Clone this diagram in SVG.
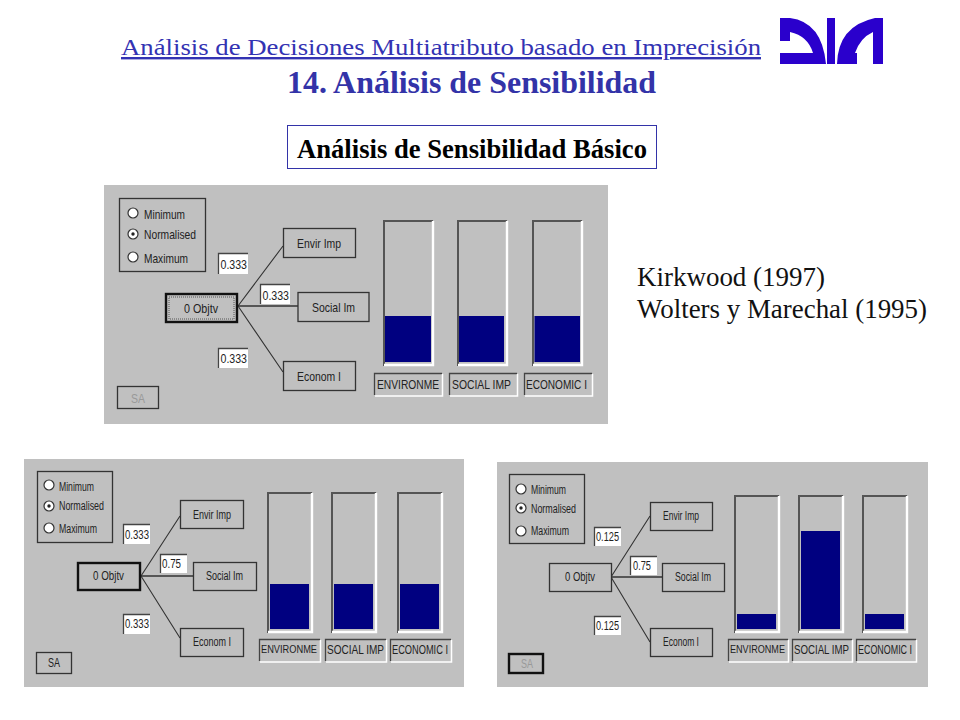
<svg xmlns="http://www.w3.org/2000/svg" width="960" height="720" viewBox="0 0 960 720">
<style>
.serif{font-family:"Liberation Serif","Times New Roman",serif}
.ui{font-family:"Liberation Sans",Arial,sans-serif;font-size:13px;fill:#222}
.sm{font-size:12px}
.xs{font-size:10.500px}
.panel{fill:#c0c0c0}
.frame{fill:none;stroke:#333;stroke-width:1.3}
.btn{fill:#c0c0c0;stroke:#333;stroke-width:1.3}
.def{fill:#c0c0c0;stroke:#111;stroke-width:2.4}
.val{fill:#fff}
.vedge{fill:none;stroke:#444;stroke-width:1.3}
.radio{fill:#fff;stroke:#333;stroke-width:1.2}
.dot{fill:#222}
.link{stroke:#333;stroke-width:1.1;fill:none}
.link2{stroke:#333;stroke-width:1.6;fill:none}
.dark{fill:none;stroke:#555;stroke-width:2}
.light{fill:none;stroke:#fff;stroke-width:2.4}
.thin{fill:none;stroke:#fff;stroke-width:1.5}
.fill{fill:#000080}
.sa{fill:#999}
</style>
<rect width="960" height="720" fill="#fff"/>

<g id="title">
<text class="serif" x="121" y="55" font-size="24" fill="#3333b3" text-decoration="underline" textLength="640" lengthAdjust="spacingAndGlyphs">Análisis de Decisiones Multiatributo basado en Imprecisión</text>
<text class="serif" x="287" y="92.500" font-size="32" font-weight="bold" fill="#3333a8" textLength="369" lengthAdjust="spacingAndGlyphs">14. Análisis de Sensibilidad</text>
</g>
<g id="logo" fill="#2a00cc">
<path d="M780 18H790Q822 22 826 64H780V53H813Q808 36 790 32V41H780Z"/>
<rect x="827" y="18" width="8" height="46"/>
<path d="M837 64Q838 26 875 18H883V64H873V32Q860 38 855 53H857V64Z"/>
</g>
<g id="subtitle">
<rect x="287.500" y="125.500" width="369" height="43" fill="#fff" stroke="#3333a8"/>
<text class="serif" x="297" y="157.500" font-size="26.500" font-weight="bold" fill="#000" textLength="350" lengthAdjust="spacingAndGlyphs">Análisis de Sensibilidad Básico</text>
</g>
<g id="references" class="serif" font-size="27" fill="#111">
<text x="637" y="286" textLength="188" lengthAdjust="spacingAndGlyphs">Kirkwood (1997)</text>
<text x="637" y="318" textLength="290" lengthAdjust="spacingAndGlyphs">Wolters y Marechal (1995)</text>
</g>

<g id="panel-top">
<rect class="panel" x="104" y="185" width="504" height="239"/>
<g id="top-connectors">
<path class="link" d="M238 306L283 246M238 306L283 372"/>
<path class="link2" d="M238 306H298"/>
</g>
<g id="top-mode">
<rect class="frame" x="119.500" y="198.500" width="86" height="73"/>
<circle class="radio" cx="133" cy="213" r="5"/><circle class="radio" cx="133" cy="234" r="5"/><circle class="dot" cx="133" cy="234" r="1.700"/><circle class="radio" cx="133" cy="257" r="5"/>
<text class="ui" x="144" y="219" textLength="41" lengthAdjust="spacingAndGlyphs">Minimum</text><text class="ui" x="144" y="239" textLength="52" lengthAdjust="spacingAndGlyphs">Normalised</text><text class="ui" x="144" y="263" textLength="44" lengthAdjust="spacingAndGlyphs">Maximum</text>
</g>
<g id="top-objective"><rect class="def" x="166" y="294" width="71" height="28"/><rect x="169" y="297" width="65" height="22" fill="none" stroke="#555" stroke-dasharray="1 1"/><text class="ui" x="184" y="313" textLength="34" lengthAdjust="spacingAndGlyphs">0 Objtv</text></g>
<g id="top-envir"><rect class="btn" x="283.500" y="228.500" width="72" height="29"/><text class="ui" x="297" y="248" textLength="44" lengthAdjust="spacingAndGlyphs">Envir Imp</text></g>
<g id="top-social"><rect class="btn" x="298" y="292.500" width="71" height="29"/><text class="ui" x="312" y="312" textLength="43" lengthAdjust="spacingAndGlyphs">Social Im</text></g>
<g id="top-econom"><rect class="btn" x="283.500" y="361.500" width="72" height="29"/><text class="ui" x="297" y="381" textLength="44" lengthAdjust="spacingAndGlyphs">Econom I</text></g>
<g id="top-w1"><rect class="val" x="218" y="253" width="30" height="21"/><path class="vedge" d="M218.500 274V253.500H248"/><text class="ui" x="220.500" y="268.500" textLength="26.500" lengthAdjust="spacingAndGlyphs">0.333</text></g>
<g id="top-w2"><rect class="val" x="260" y="284" width="30" height="20"/><path class="vedge" d="M260.500 304V284.500H290"/><text class="ui" x="262.500" y="299.500" textLength="26.500" lengthAdjust="spacingAndGlyphs">0.333</text></g>
<g id="top-w3"><rect class="val" x="218" y="348" width="30" height="20"/><path class="vedge" d="M218.500 368V348.500H248"/><text class="ui" x="220.500" y="362.500" textLength="26.500" lengthAdjust="spacingAndGlyphs">0.333</text></g>
<g id="top-sa"><rect class="btn" x="117.500" y="386.500" width="41" height="22"/><text class="ui sa" x="131" y="402.500" textLength="14" lengthAdjust="spacingAndGlyphs">SA</text></g>
<g id="top-bar1"><path class="dark" d="M384 366V221H433"/><path class="light" d="M433 221V365H384"/><rect class="fill" x="385" y="316" width="46" height="46"/></g>
<g id="top-bar2"><path class="dark" d="M458 366V221H507"/><path class="light" d="M507 221V365H458"/><rect class="fill" x="459" y="316" width="45" height="46"/></g>
<g id="top-bar3"><path class="dark" d="M533 366V221H582"/><path class="light" d="M582 221V365H533"/><rect class="fill" x="534.500" y="316" width="45.500" height="46"/></g>
<g id="top-l1"><path class="vedge" d="M374.500 395V373.500H442"/><path class="thin" d="M375 396H442.500V374"/><text class="ui" x="377" y="388.500" textLength="62" lengthAdjust="spacingAndGlyphs">ENVIRONME</text></g>
<g id="top-l2"><path class="vedge" d="M449.500 395V373.500H517"/><path class="thin" d="M450 396H517.500V374"/><text class="ui" x="452" y="388.500" textLength="59" lengthAdjust="spacingAndGlyphs">SOCIAL IMP</text></g>
<g id="top-l3"><path class="vedge" d="M524.500 395V373.500H592"/><path class="thin" d="M525 396H592.500V374"/><text class="ui" x="526" y="388.500" textLength="61" lengthAdjust="spacingAndGlyphs">ECONOMIC I</text></g>
</g>

<g id="panel-left">
<rect class="panel" x="24" y="459" width="440" height="228"/>
<g id="left-connectors">
<path class="link" d="M141 576L180 516M141 576L180 638"/>
<path class="link2" d="M141 576H193"/>
</g>
<g id="left-mode">
<rect class="frame" x="37.500" y="471.500" width="75" height="71"/>
<circle class="radio" cx="49" cy="485" r="5"/><circle class="radio" cx="49" cy="506" r="5"/><circle class="dot" cx="49" cy="506" r="1.700"/><circle class="radio" cx="49" cy="528" r="5"/>
<text class="ui sm" x="59" y="491" textLength="35" lengthAdjust="spacingAndGlyphs">Minimum</text><text class="ui sm" x="59" y="510" textLength="45" lengthAdjust="spacingAndGlyphs">Normalised</text><text class="ui sm" x="59" y="533" textLength="38" lengthAdjust="spacingAndGlyphs">Maximum</text>
</g>
<g id="left-objective"><rect class="def" x="78" y="563" width="62" height="27"/><text class="ui sm" x="93" y="580" textLength="31" lengthAdjust="spacingAndGlyphs">0 Objtv</text></g>
<g id="left-envir"><rect class="btn" x="180.500" y="500.500" width="63" height="28"/><text class="ui sm" x="193" y="519" textLength="38" lengthAdjust="spacingAndGlyphs">Envir Imp</text></g>
<g id="left-social"><rect class="btn" x="193.500" y="562.500" width="63" height="28"/><text class="ui sm" x="206" y="580" textLength="37" lengthAdjust="spacingAndGlyphs">Social Im</text></g>
<g id="left-econom"><rect class="btn" x="180.500" y="628.500" width="63" height="28"/><text class="ui sm" x="193" y="646" textLength="38" lengthAdjust="spacingAndGlyphs">Econom I</text></g>
<g id="left-w1"><rect class="val" x="123" y="524" width="27" height="20"/><path class="vedge" d="M123.500 544V524.500H150"/><text class="ui sm" x="125" y="539" textLength="24" lengthAdjust="spacingAndGlyphs">0.333</text></g>
<g id="left-w2"><rect class="val" x="160" y="554" width="27" height="19"/><path class="vedge" d="M160.500 573V554.500H187"/><text class="ui sm" x="162" y="568" textLength="19" lengthAdjust="spacingAndGlyphs">0.75</text></g>
<g id="left-w3"><rect class="val" x="123" y="614" width="27" height="20"/><path class="vedge" d="M123.500 634V614.500H150"/><text class="ui sm" x="125" y="628" textLength="24" lengthAdjust="spacingAndGlyphs">0.333</text></g>
<g id="left-sa"><rect class="btn" x="36.500" y="652.500" width="35" height="21"/><text class="ui sm" x="48" y="667" textLength="12" lengthAdjust="spacingAndGlyphs">SA</text></g>
<g id="left-bar1"><path class="dark" d="M268 633V493H312"/><path class="light" d="M312 493V632H268"/><rect class="fill" x="270" y="584" width="39" height="45"/></g>
<g id="left-bar2"><path class="dark" d="M332 633V493H376"/><path class="light" d="M376 493V632H332"/><rect class="fill" x="334" y="584" width="39" height="45"/></g>
<g id="left-bar3"><path class="dark" d="M398 633V493H442"/><path class="light" d="M442 493V632H398"/><rect class="fill" x="400" y="584" width="39" height="45"/></g>
<g id="left-l1"><path class="vedge" d="M259.500 661V639.500H320"/><path class="thin" d="M260 662H320.500V640"/><text class="ui xs" x="261" y="653" textLength="56" lengthAdjust="spacingAndGlyphs">ENVIRONME</text></g>
<g id="left-l2"><path class="vedge" d="M325.500 661V639.500H386"/><path class="thin" d="M326 662H386.500V640"/><text class="ui sm" x="327" y="653.500" textLength="57" lengthAdjust="spacingAndGlyphs">SOCIAL IMP</text></g>
<g id="left-l3"><path class="vedge" d="M390.500 661V639.500H451"/><path class="thin" d="M391 662H451.500V640"/><text class="ui sm" x="392" y="653.500" textLength="56" lengthAdjust="spacingAndGlyphs">ECONOMIC I</text></g>
</g>

<g id="panel-right">
<rect class="panel" x="497" y="462" width="431" height="225"/>
<g id="right-connectors">
<path class="link" d="M611 577L650 516M611 577L650 642"/>
<path class="link2" d="M611 577H662"/>
</g>
<g id="right-mode">
<rect class="frame" x="509.500" y="474.500" width="75" height="69"/>
<circle class="radio" cx="521" cy="489" r="5"/><circle class="radio" cx="521" cy="508" r="5"/><circle class="dot" cx="521" cy="508" r="1.700"/><circle class="radio" cx="521" cy="531" r="5"/>
<text class="ui sm" x="531" y="494" textLength="35" lengthAdjust="spacingAndGlyphs">Minimum</text><text class="ui sm" x="531" y="513" textLength="45" lengthAdjust="spacingAndGlyphs">Normalised</text><text class="ui sm" x="531" y="535" textLength="38" lengthAdjust="spacingAndGlyphs">Maximum</text>
</g>
<g id="right-objective"><rect class="btn" x="549.500" y="563.500" width="62" height="28"/><text class="ui sm" x="565" y="581" textLength="30" lengthAdjust="spacingAndGlyphs">0 Objtv</text></g>
<g id="right-envir"><rect class="btn" x="650.500" y="502.500" width="62" height="28"/><text class="ui sm" x="663" y="520" textLength="36" lengthAdjust="spacingAndGlyphs">Envir Imp</text></g>
<g id="right-social"><rect class="btn" x="662.500" y="563.500" width="62" height="28"/><text class="ui sm" x="675" y="581" textLength="36" lengthAdjust="spacingAndGlyphs">Social Im</text></g>
<g id="right-econom"><rect class="btn" x="650.500" y="628.500" width="62" height="28"/><text class="ui sm" x="663" y="646" textLength="36" lengthAdjust="spacingAndGlyphs">Econom I</text></g>
<g id="right-w1"><rect class="val" x="594" y="527" width="27" height="19"/><path class="vedge" d="M594.500 546V527.500H621"/><text class="ui sm" x="596" y="540.500" textLength="23" lengthAdjust="spacingAndGlyphs">0.125</text></g>
<g id="right-w2"><rect class="val" x="630" y="556" width="27" height="19"/><path class="vedge" d="M630.500 575V556.500H657"/><text class="ui sm" x="633" y="570" textLength="18" lengthAdjust="spacingAndGlyphs">0.75</text></g>
<g id="right-w3"><rect class="val" x="594" y="616" width="27" height="19"/><path class="vedge" d="M594.500 635V616.500H621"/><text class="ui sm" x="596" y="629.500" textLength="23" lengthAdjust="spacingAndGlyphs">0.125</text></g>
<g id="right-sa"><rect class="def" x="509" y="654" width="34" height="19"/><text class="ui sm sa" x="521" y="668" textLength="12" lengthAdjust="spacingAndGlyphs">SA</text></g>
<g id="right-bar1"><path class="dark" d="M735 633V496H779"/><path class="light" d="M779 496V632H735"/><rect class="fill" x="737" y="614" width="39" height="15"/></g>
<g id="right-bar2"><path class="dark" d="M799 633V496H843"/><path class="light" d="M843 496V632H799"/><rect class="fill" x="801" y="531" width="39" height="98"/></g>
<g id="right-bar3"><path class="dark" d="M863 633V496H907"/><path class="light" d="M907 496V632H863"/><rect class="fill" x="865" y="614" width="39" height="15"/></g>
<g id="right-l1"><path class="vedge" d="M728.500 661V639.500H788"/><path class="thin" d="M729 662H788.500V640"/><text class="ui xs" x="730" y="653" textLength="55" lengthAdjust="spacingAndGlyphs">ENVIRONME</text></g>
<g id="right-l2"><path class="vedge" d="M792.500 661V639.500H852"/><path class="thin" d="M793 662H852.500V640"/><text class="ui sm" x="794" y="653.500" textLength="55" lengthAdjust="spacingAndGlyphs">SOCIAL IMP</text></g>
<g id="right-l3"><path class="vedge" d="M856.500 661V639.500H916"/><path class="thin" d="M857 662H916.500V640"/><text class="ui sm" x="858" y="653.500" textLength="54" lengthAdjust="spacingAndGlyphs">ECONOMIC I</text></g>
</g>
</svg>
